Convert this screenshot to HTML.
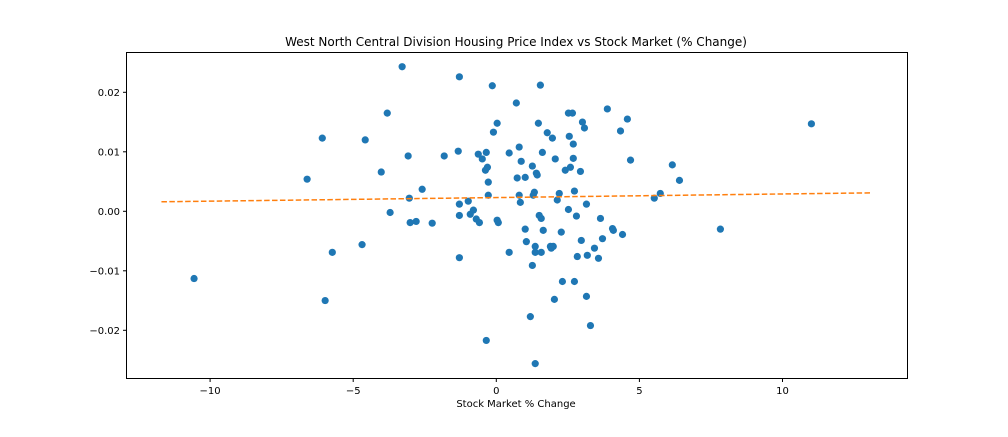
<!DOCTYPE html>
<html><head><meta charset="utf-8"><style>
body{margin:0;background:#fff;font-family:"Liberation Sans","DejaVu Sans",sans-serif}
svg text{font-family:"DejaVu Sans","Liberation Sans",sans-serif;font-size:10px;fill:#000}
</style></head><body>
<svg id="chart" width="1008" height="432" xmlns="http://www.w3.org/2000/svg">
<text x="516" y="46" text-anchor="middle" style="font-size:12px">West North Central Division Housing Price Index vs Stock Market (% Change)</text>
<text x="516" y="407" text-anchor="middle">Stock Market % Change</text>
<g id="marks"></g>
<rect x="126.5" y="52.5" width="781" height="326" fill="none" stroke="#000" stroke-width="1"/>
</svg>
<script>
const stockChange=[-10.56,-6.61,-6.08,-5.73,-5.98,-4.69,-4.58,-4.02,-3.81,-3.71,-3.29,-3.08,-3.04,-3.01,-2.80,-2.59,-2.24,-1.82,-1.33,-1.29,-1.29,-1.29,-1.29,-0.98,-0.91,-0.80,-0.70,-0.63,-0.59,-0.49,-0.38,-0.35,-0.28,-0.28,-0.31,-0.14,-0.10,0.03,0.03,0.07,0.45,0.45,0.70,0.73,0.80,0.80,0.84,0.87,1.01,1.01,1.05,1.26,1.26,1.29,1.33,1.36,1.40,1.43,1.36,1.47,1.50,1.57,1.57,1.54,1.61,1.64,1.78,1.89,1.92,1.96,1.99,2.03,2.06,2.13,2.20,2.27,2.31,2.41,2.52,2.52,2.55,2.59,2.66,2.69,2.69,2.73,2.73,2.80,2.83,2.94,2.97,3.01,3.08,3.15,3.15,3.18,3.29,3.43,3.57,3.64,3.71,3.88,4.06,4.09,4.34,4.41,4.58,4.69,5.52,5.73,6.15,6.40,7.83,11.01,1.36,-0.35,1.19];
const housingChange=[-0.0113,0.0054,0.0123,-0.0069,-0.0150,-0.0056,0.0120,0.0066,0.0165,-0.0002,0.0243,0.0093,0.0022,-0.0019,-0.0017,0.0037,-0.0020,0.0093,0.0101,0.0226,0.0012,-0.0007,-0.0078,0.0017,-0.0005,0.0002,-0.0013,0.0096,-0.0019,0.0088,0.0069,0.0099,0.0027,0.0049,0.0074,0.0211,0.0133,0.0148,-0.0015,-0.0019,0.0098,-0.0069,0.0182,0.0056,0.0108,0.0027,0.0015,0.0084,0.0057,-0.0030,-0.0051,0.0076,-0.0091,0.0027,0.0032,-0.0059,0.0064,0.0061,-0.0069,0.0148,-0.0007,-0.0012,-0.0069,0.0212,0.0099,-0.0032,0.0132,-0.0059,-0.0062,0.0123,-0.0059,-0.0148,0.0088,0.0019,0.0030,-0.0035,-0.0118,0.0069,0.0003,0.0165,0.0126,0.0074,0.0165,0.0113,0.0089,-0.0118,0.0034,-0.0008,-0.0076,0.0067,-0.0049,0.0150,0.0140,0.0012,-0.0143,-0.0074,-0.0192,-0.0062,-0.0079,-0.0012,-0.0046,0.0172,-0.0029,-0.0032,0.0135,-0.0039,0.0155,0.0086,0.0022,0.0030,0.0078,0.0052,-0.0030,0.0147,-0.0256,-0.0217,-0.0177];
const trendX=[-11.7,13.1];
const trendY=[0.0016,0.0031];
const xTicks=[-10,-5,0,5,10];
const yTicks=[0.02,0.01,0.00,-0.01,-0.02];
const yTickLabels=["0.02","0.01","0.00","−0.01","−0.02"];

const xs=v=>496.3+v*28.62;
const ys=v=>211.3-v*5950;
const NS="http://www.w3.org/2000/svg";
const svg=document.getElementById('chart');
const g=document.getElementById('marks');
function mk(tag,attrs,parent){const e=document.createElementNS(NS,tag);for(const k in attrs)e.setAttribute(k,attrs[k]);(parent||g).appendChild(e);return e;}
xTicks.forEach(t=>{
  const l=mk('line',{x1:xs(t),x2:xs(t),y1:378.5,y2:382});l.setAttribute('stroke','#000');
  
  
  const tx=mk('text',{x:xs(t),y:394,'text-anchor':'middle'});tx.textContent=t<0?'−'+(-t):String(t);
  
  
});
yTicks.forEach((t,i)=>{
  const l=mk('line',{x1:123,x2:126.5,y1:ys(t),y2:ys(t)});l.setAttribute('stroke','#000');
  
  
  const tx=mk('text',{x:120,y:ys(t)+3.5,'text-anchor':'end'});tx.textContent=yTickLabels[i];
  
  
});
stockChange.forEach((x,i)=>{
  const c=mk('circle',{cx:xs(x),cy:ys(housingChange[i]),r:3.6,fill:'#1f77b4'});
  
  
});
const tl=mk('line',{x1:xs(trendX[0]),y1:ys(trendY[0]),x2:xs(trendX[1]),y2:ys(trendY[1]),stroke:'#ff7f0e','stroke-width':1.5,'stroke-dasharray':'5.5,2.4'});


</script>
</body></html>
